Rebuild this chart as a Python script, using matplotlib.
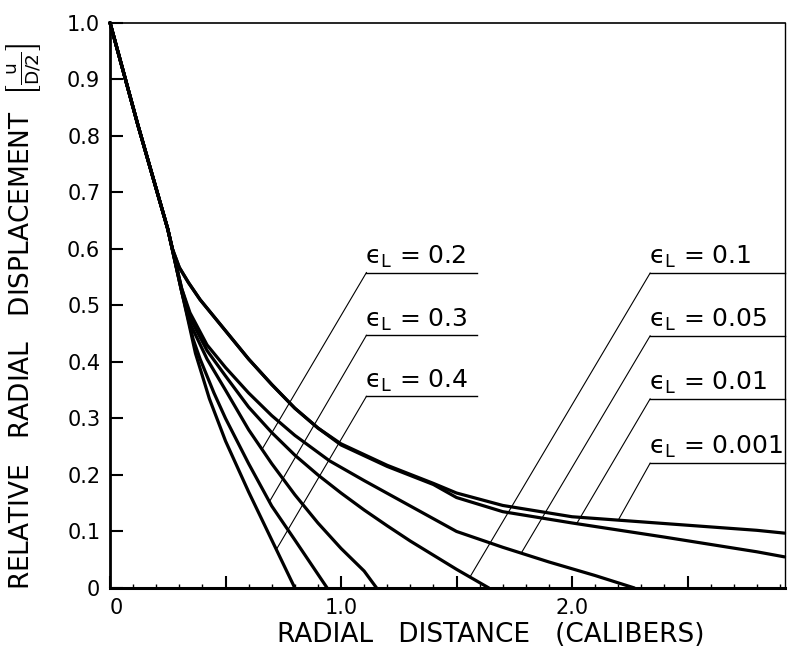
import numpy as np
import matplotlib.pyplot as plt
from matplotlib.ticker import MultipleLocator

plt.rcParams['font.family'] = 'DejaVu Sans'
plt.rcParams['mathtext.fontset'] = 'dejavusans'

# read-off values: x = radial distance (calibers), y = u/(D/2)
x_04 = [0.0, 0.12, 0.25, 0.31, 0.37, 0.43, 0.50, 0.60, 0.70, 0.80]
y_04 = [1.0, 0.82, 0.635, 0.525, 0.415, 0.335, 0.26, 0.17, 0.085, 0.0]

x_03 = [0.0, 0.12, 0.25, 0.31, 0.36, 0.39, 0.45, 0.50, 0.60, 0.70, 0.80, 0.94]
y_03 = [1.0, 0.82, 0.635, 0.525, 0.44, 0.405, 0.345, 0.30, 0.22, 0.145, 0.085, 0.0]

x_02 = [0.0, 0.12, 0.25, 0.31, 0.35, 0.42, 0.50, 0.60, 0.70, 0.80, 0.90, 1.00, 1.10, 1.154]
y_02 = [1.0, 0.82, 0.635, 0.525, 0.465, 0.405, 0.35, 0.28, 0.22, 0.165, 0.115, 0.07, 0.03, 0.0]

x_01 = [0.0, 0.12, 0.25, 0.31, 0.35, 0.42, 0.50, 0.60, 0.70, 0.80, 0.90, 1.00,
        1.10, 1.20, 1.30, 1.40, 1.50, 1.64]
y_01 = [1.0, 0.82, 0.635, 0.53, 0.475, 0.42, 0.375, 0.32, 0.275, 0.235, 0.20, 0.168,
        0.138, 0.11, 0.083, 0.058, 0.033, 0.0]

x_005 = [0.0, 0.12, 0.25, 0.31, 0.346, 0.42, 0.50, 0.60, 0.70, 0.80, 0.95, 1.10,
         1.30, 1.50, 1.70, 1.90, 2.10, 2.27]
y_005 = [1.0, 0.82, 0.635, 0.53, 0.487, 0.43, 0.39, 0.345, 0.305, 0.27, 0.225, 0.19,
         0.145, 0.10, 0.072, 0.046, 0.022, 0.0]

x_001 = [0.0, 0.12, 0.25, 0.27, 0.30, 0.34, 0.39, 0.50, 0.60, 0.70, 0.80, 0.90, 1.00,
         1.20, 1.40, 1.50, 1.70, 2.00, 2.40, 2.60, 2.80, 2.92]
y_001 = [1.0, 0.82, 0.635, 0.60, 0.567, 0.54, 0.51, 0.455, 0.405, 0.36, 0.318, 0.283, 0.253,
         0.215, 0.183, 0.16, 0.135, 0.115, 0.09, 0.077, 0.064, 0.055]

x_0001 = [0.0, 0.12, 0.25, 0.27, 0.30, 0.34, 0.39, 0.50, 0.60, 0.70, 0.80, 0.90, 1.00,
          1.20, 1.40, 1.50, 1.70, 2.00, 2.40, 2.60, 2.80, 2.92]
y_0001 = [1.0, 0.82, 0.635, 0.60, 0.567, 0.54, 0.51, 0.455, 0.405, 0.36, 0.318, 0.283, 0.255,
          0.217, 0.185, 0.168, 0.146, 0.126, 0.114, 0.108, 0.102, 0.097]

eps_names = ['0.4', '0.3', '0.2', '0.1', '0.05', '0.01', '0.001']
curves = {
    '0.4': (x_04, y_04), '0.3': (x_03, y_03), '0.2': (x_02, y_02),
    '0.1': (x_01, y_01), '0.05': (x_005, y_005), '0.01': (x_001, y_001),
    '0.001': (x_0001, y_0001),
}

# label boxes: underline height and the x where the leader meets the curve
left_labels = ['0.2', '0.3', '0.4']
left_ul_y = [0.558, 0.447, 0.339]
left_hit_x = [0.658, 0.69, 0.72]
right_labels = ['0.1', '0.05', '0.01', '0.001']
right_ul_y = [0.557, 0.446, 0.3345, 0.2207]
right_hit_x = [1.558, 1.78, 2.02, 2.20]

xticks = [0, 0.5, 1.0, 1.5, 2.0, 2.5]
xticklabels = ['0', '', '1.0', '', '2.0', '']
yticks = np.round(np.arange(0, 1.01, 0.1), 1)
yticklabels = ['0', '0.1', '0.2', '0.3', '0.4', '0.5', '0.6', '0.7', '0.8', '0.9', '1.0']

fig = plt.figure(figsize=(7.92, 6.56), dpi=100)
ax = fig.add_axes([0.1389, 0.1037, 0.8523, 0.8617])

for name in eps_names:
    xs, ys = curves[name]
    ax.plot(xs, ys, color='black', lw=2.3, solid_joinstyle='round',
            solid_capstyle='round', clip_on=False)

def draw_label(name, ul_y, hit_x, x0, x1):
    xs, ys = curves[name]
    hit_y = np.interp(hit_x, xs, ys)
    ax.plot([x0, x1], [ul_y, ul_y], color='black', lw=1.0, clip_on=False)
    ax.plot([x0, hit_x], [ul_y, hit_y], color='black', lw=0.8)
    ax.annotate('$\\mathrm{\u03f5}_\\mathrm{L}$ = ' + name, (x0, ul_y), xytext=(-1, 2),
                textcoords='offset points', fontsize=18, va='bottom', ha='left')

for name, uy, hx in zip(left_labels, left_ul_y, left_hit_x):
    draw_label(name, uy, hx, 1.11, 1.59)
for name, uy, hx in zip(right_labels, right_ul_y, right_hit_x):
    draw_label(name, uy, hx, 2.338, 2.922)

ax.set_xlim(0, 2.922)
ax.set_ylim(0, 1.0)
ax.set_xticks(xticks)
ax.set_xticklabels(xticklabels)
ax.set_yticks(yticks)
ax.set_yticklabels(yticklabels)
ax.xaxis.set_minor_locator(MultipleLocator(0.1))
ax.tick_params(which='major', direction='in', length=9, width=1.5, labelsize=15, pad=7)
ax.tick_params(which='minor', axis='x', direction='in', length=3, width=1)
ax.get_xticklabels()[0].set_ha('left')

ax.spines['left'].set_linewidth(2.0)
ax.spines['bottom'].set_linewidth(2.2)
ax.spines['top'].set_linewidth(1.2)
ax.spines['right'].set_linewidth(1.0)

ax.set_xlabel('RADIAL   DISTANCE   (CALIBERS)', fontsize=19)
ax.xaxis.set_label_coords(0.564, -0.06)
ax.set_ylabel(r'RELATIVE   RADIAL   DISPLACEMENT  $\left[\frac{\mathrm{u}}{\mathrm{D/2}}\right]$',
              fontsize=19)
ax.yaxis.set_label_coords(-0.098, 0.48)

fig.savefig('out.png', dpi=100)
